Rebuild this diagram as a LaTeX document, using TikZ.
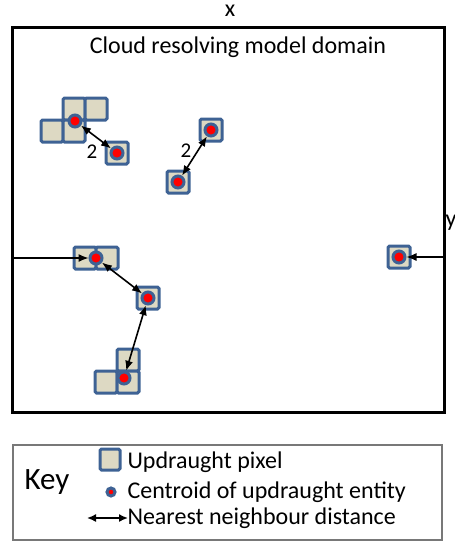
\documentclass[tikz,border=0pt]{standalone}
\usepackage{fontspec}
\setmainfont{Carlito}
\usetikzlibrary{arrows.meta}

\definecolor{pixfill}{RGB}{221,217,195}
\definecolor{pixedge}{RGB}{62,98,148}
\definecolor{keyedge}{RGB}{120,120,120}

\tikzset{
  pixel/.style={draw=pixedge, fill=pixfill, line width=3pt, rounded corners=1.5pt},
  centroid/.style={circle, draw=pixedge, fill=red, line width=3pt, minimum size=12pt, inner sep=0pt},
  nnd/.style={{Latex[length=10pt,width=8pt]}-{Latex[length=10pt,width=8pt]}, line width=1.6pt},
  into/.style={-{Latex[length=10pt,width=8pt]}, line width=1.3pt},
  lbl/.style={font=\fontsize{24}{28}\selectfont},
}
% one updraught pixel, given by its top left corner
\newcommand{\pix}[2]{\draw[pixel] (#1,#2) rectangle ++(22,22);}

\begin{document}
\begin{tikzpicture}[x=1pt, y=-1pt]
\useasboundingbox (0,0) rectangle (455,541);

% model domain
\draw[line width=3pt] (12,27) rectangle (444,412);
\node[lbl] (xlab) at (230,11) {x};
\node[lbl] (ylab) at (451,223) {y};
\node[lbl] (title) at (238,47) {Cloud resolving model domain};
\coordinate (west) at (12,258);
\coordinate (east) at (444,257);

% updraught pixels
\pix{63}{98} \pix{85}{98} \pix{41}{120} \pix{63}{120}
\pix{106}{142}
\pix{200}{119}
\pix{167}{171}
\pix{74}{247} \pix{96}{247}
\pix{137}{287}
\pix{117}{349} \pix{95}{371} \pix{117}{371}
\pix{388}{246}

% centroids of the entities
\node[centroid] (c1) at (75,121) {};
\node[centroid] (c2) at (117,153) {};
\node[centroid] (c3) at (211,130) {};
\node[centroid] (c4) at (178,182) {};
\node[centroid] (c5) at (96,258) {};
\node[centroid] (c6) at (148,298) {};
\node[centroid] (c7) at (124,378) {};
\node[centroid] (c8) at (399,257) {};

% nearest neighbour distances
\draw[nnd] (c1) -- (c2);
\draw[nnd] (c3) -- (c4);
\draw[nnd] (c5) -- (c6);
\draw[nnd] (c6) -- (c7);
\draw[into] (west) -- (c5);
\draw[into] (east) -- (c8);
\node[lbl, font=\fontsize{21}{24}\selectfont] (d1) at (92,152) {2};
\node[lbl, font=\fontsize{21}{24}\selectfont] (d2) at (186,151) {2};

% key
\draw[keyedge, line width=1.5pt] (13,445) rectangle (442,540);
\node[font=\fontsize{31}{36}\selectfont] (key) at (47,482) {Key};
\draw[pixel] (100,449) rectangle (120,470);
\node[lbl, anchor=west] (kpix) at (124,462) {Updraught pixel};
\node[centroid, minimum size=8pt, line width=3pt] (kdot) at (111,492) {};
\node[lbl, anchor=west] (kcen) at (124,492) {Centroid of updraught entity};
\coordinate (ka) at (87,518);
\coordinate (kb) at (128,518);
\draw[{Latex[length=9pt,width=8pt]}-{Latex[length=9pt,width=8pt]}, line width=1.6pt] (ka) -- (kb);
\node[lbl, anchor=west] (knnd) at (124,518) {Nearest neighbour distance};
\end{tikzpicture}
\end{document}
